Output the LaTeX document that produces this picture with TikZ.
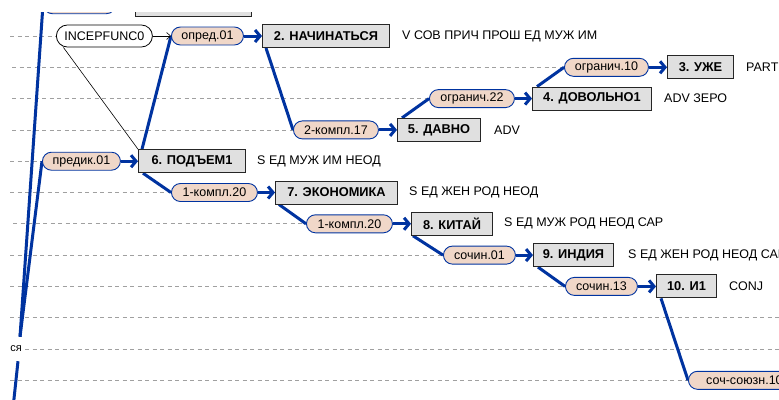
\documentclass[tikz,border=0pt]{standalone}
\usepackage{fontspec}
\setmainfont{Liberation Sans}
\usetikzlibrary{shapes.misc,arrows.meta,calc}
\pgfdeclarelayer{background}
\pgfsetlayers{background,main}
\definecolor{linkblue}{RGB}{0,51,160}
\definecolor{pillfill}{RGB}{240,215,200}
\definecolor{boxfill}{RGB}{224,224,224}
\definecolor{gridgray}{RGB}{160,160,160}

\begin{document}
\begin{tikzpicture}[x=1pt,y=-1pt,
  font=\fontsize{12.5}{14}\selectfont,
  wordbox/.style={draw=black!85, fill=boxfill, line width=1pt,
    minimum height=23pt, inner sep=0pt, anchor=west,
    font=\fontsize{12.8}{14}\selectfont\bfseries},
  relpill/.style={rounded rectangle, draw=linkblue, fill=pillfill,
    line width=0.9pt, minimum height=18pt, inner sep=0pt, anchor=west},
  funcpill/.style={rounded rectangle, draw=black, fill=white,
    line width=0.8pt, minimum height=22pt, inner sep=0pt, anchor=west},
  tag/.style={anchor=west, inner sep=0pt},
  rowline/.style={draw=gridgray, dash pattern=on 4pt off 3.5pt, line width=0.8pt},
  link/.style={draw=linkblue, line width=3pt},
  relarrow/.style={link, -{Straight Barb[length=5pt,width=12pt]}},
  funcarrow/.style={draw=black, line width=0.6pt, -{Straight Barb[length=4pt,width=7pt]}},
  funcline/.style={draw=black, line width=0.6pt}]

\useasboundingbox (0,0) rectangle (779,399);
\clip (0,12) rectangle (779,399);

% ---- row -1 (only the lower edge shows) ----
\node[relpill, minimum width=72pt] (toppill) at (43,4.7) {};
\node[wordbox, minimum width=116pt] (topbox) at (135,4.7) {};

% ---- row 0 ----
\node[funcpill, minimum width=96pt] (inc) at (56,36) {INCEPFUNC0};
\node[relpill, minimum width=72pt] (opr) at (171,36) {опред.01};
\node[wordbox, minimum width=127pt] (b2) at (262,36) {2. НАЧИНАТЬСЯ};
\node[tag] (t2) at ($(b2.east)+(12,0)$) {V СОВ ПРИЧ ПРОШ ЕД МУЖ ИМ};

% ---- row 1 ----
\node[relpill, minimum width=84pt] (ogr10) at (564,67.3) {огранич.10};
\node[wordbox, minimum width=66pt] (b3) at (667,67.3) {3. УЖЕ};
\node[tag] (t3) at ($(b3.east)+(12,0)$) {PART};

% ---- row 2 ----
\node[relpill, minimum width=85pt] (ogr22) at (429,98.6) {огранич.22};
\node[wordbox, minimum width=119pt] (b4) at (532,98.6) {4. ДОВОЛЬНО1};
\node[tag] (t4) at ($(b4.east)+(12,0)$) {ADV ЗЕРО};

% ---- row 3 ----
\node[relpill, minimum width=85pt] (k17) at (293,129.9) {2-компл.17};
\node[wordbox, minimum width=83pt] (b5) at (397,129.9) {5. ДАВНО};
\node[tag] (t5) at ($(b5.east)+(13,0)$) {ADV};

% ---- row 4 ----
\node[relpill, minimum width=78pt] (pred) at (42,161.2) {предик.01};
\node[wordbox, minimum width=107pt] (b6) at (138,161.2) {6. ПОДЪЕМ1};
\node[tag] (t6) at ($(b6.east)+(11,0)$) {S ЕД МУЖ ИМ НЕОД};

% ---- row 5 ----
\node[relpill, minimum width=86pt] (k20a) at (171,192.5) {1-компл.20};
\node[wordbox, minimum width=122pt] (b7) at (275,192.5) {7. ЭКОНОМИКА};
\node[tag] (t7) at ($(b7.east)+(11,0)$) {S ЕД ЖЕН РОД НЕОД};

% ---- row 6 ----
\node[relpill, minimum width=86pt] (k20b) at (306,223.8) {1-компл.20};
\node[wordbox, minimum width=81pt] (b8) at (411,223.8) {8. КИТАЙ};
\node[tag] (t8) at ($(b8.east)+(11,0)$) {S ЕД МУЖ РОД НЕОД САР};

% ---- row 7 ----
\node[relpill, minimum width=72pt] (soch01) at (443,255.1) {сочин.01};
\node[wordbox, minimum width=80pt] (b9) at (533,255.1) {9. ИНДИЯ};
\node[tag] (t9) at ($(b9.east)+(14,0)$) {S ЕД ЖЕН РОД НЕОД САР};

% ---- row 8 ----
\node[relpill, minimum width=72pt] (soch13) at (565,286.4) {сочин.13};
\node[wordbox, minimum width=60pt] (b10) at (656,286.4) {10. И1};
\node[tag] (t10) at ($(b10.east)+(12,0)$) {CONJ};

% ---- row 10 ----
\node[anchor=east, inner sep=0pt, minimum height=24pt,
      font=\fontsize{11}{12}\selectfont] (sja) at (22,349) {ся};

% ---- row 11 ----
\node[relpill, minimum width=112pt] (sojuz) at (688,380.3) {соч-союзн.10};

\coordinate (below) at (12.8,410);

\begin{pgfonlayer}{background}
  \clip (0,12) rectangle (779,399);
  % dashed row guides
  \draw[rowline] (10,36)   -- (inc.west);
  \draw[rowline] (12,67.3) -- (ogr10.west);
  \draw[rowline] (12,98.6) -- (ogr22.west);
  \draw[rowline] (12,129.9) -- (k17.west);
  \draw[rowline] (10,161.2) -- (pred.west);
  \draw[rowline] (10,192.5) -- (k20a.west);
  \draw[rowline] (13,223.8) -- (k20b.west);
  \draw[rowline] (10,255.1) -- (soch01.west);
  \draw[rowline] (10,286.4) -- (soch13.west);
  \draw[rowline] (10,317.7) -- (779,317.7);
  \draw[rowline] ($(sja.east)+(3,0)$) -- (779,349);
  \draw[rowline] (10,380.3) -- (sojuz.west);

  % links from heads to relation labels
  \draw[link] ($(sja.north east)+(-2,0)$) -- (toppill.west);
  \draw[link] ($(sja.north east)+(-2,0)$) -- (pred.west);
  \draw[link] ($(sja.south east)+(-4,0)$) -- (below);
  \draw[link] ($(b6.north west)+(4,0)$) -- (opr.west);
  \draw[link] ($(b2.south west)+(4,0)$) -- (k17.west);
  \draw[link] ($(b5.north west)+(5,0)$) -- (ogr22.west);
  \draw[link] ($(b4.north west)+(5,0)$) -- (ogr10.west);
  \draw[link] ($(b6.south west)+(5,0)$) -- (k20a.west);
  \draw[link] ($(b7.south west)+(4,0)$) -- (k20b.west);
  \draw[link] ($(b8.south west)+(2,0)$) -- (soch01.west);
  \draw[link] ($(b9.south west)+(5,0)$) -- (soch13.west);
  \draw[link] ($(b10.south west)+(5,0)$) -- (sojuz.west);

  % lexical function links
  \draw[funcline] ($(inc.south)+(-41,0)$) -- (b6.north west);
\end{pgfonlayer}

% relation label -> dependent word
\draw[relarrow] (toppill.east) -- (topbox.west);
\draw[relarrow] (opr.east) -- (b2.west);
\draw[relarrow] (ogr10.east) -- (b3.west);
\draw[relarrow] (ogr22.east) -- (b4.west);
\draw[relarrow] (k17.east) -- (b5.west);
\draw[relarrow] (pred.east) -- (b6.west);
\draw[relarrow] (k20a.east) -- (b7.west);
\draw[relarrow] (k20b.east) -- (b8.west);
\draw[relarrow] (soch01.east) -- (b9.west);
\draw[relarrow] (soch13.east) -- (b10.west);
\draw[funcarrow] (inc.east) -- (opr.west);
\end{tikzpicture}
\end{document}
